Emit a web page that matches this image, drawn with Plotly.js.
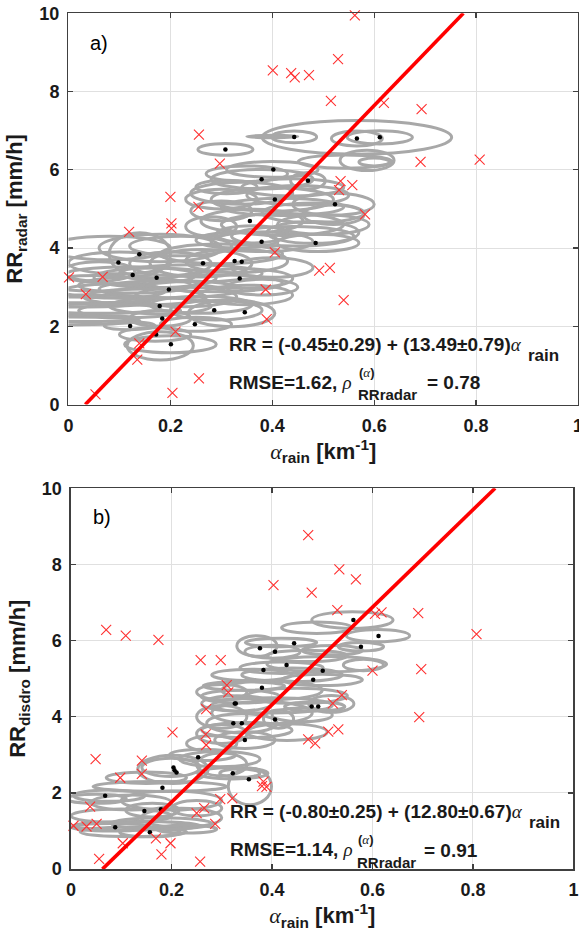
<!DOCTYPE html>
<html>
<head>
<meta charset="utf-8">
<script src="https://cdn.plot.ly/plotly-3.0.1.min.js"></script>
<style>html,body{margin:0;padding:0;background:#fff;}#chart{width:579px;height:937px;}</style>
</head>
<body>
<div id="chart"></div>
<script>
// ---------- Panel a) radar ----------
const topCrossX = [0.562,0.529,0.401,0.437,0.444,0.472,0.515,0.619,0.693,0.256,0.297,0.691,0.807,0.534,0.557,0.531,0.200,0.255,0.582,0.202,0.202,0.119,0.405,0.492,0.513,0.001,0.067,0.034,0.387,0.540,0.389,0.210,0.139,0.135,0.256,0.053,0.204];
const topCrossY = [9.95,8.83,8.54,8.47,8.36,8.42,7.76,7.71,7.55,6.90,6.16,6.20,6.26,5.71,5.61,5.48,5.31,5.05,4.86,4.63,4.50,4.41,3.89,3.42,3.49,3.25,3.26,2.82,2.94,2.67,2.18,1.86,1.56,1.15,0.67,0.26,0.30];

const topEllX  = [0.00,0.03,0.00,0.02,0.10,0.14,0.12,0.17,0.20,0.13,0.09,0.12,0.18,0.18,0.25,0.29,0.32,0.17,0.18,0.20,0.26,0.33,0.34,0.20,0.29,0.23,0.06,0.18,
                  0.08,0.22,0.30,0.40,0.38,0.05,0.15,0.26,0.12,0.35,0.24,0.06,
                  0.40,0.38,0.31,0.34,0.40,0.45,0.47,0.52,0.48,0.36,0.42,0.50,0.38,0.49,0.44,0.30,0.33,
                  0.35,0.44,0.30,0.48,0.36,0.42,0.52,0.28,
                  0.566,0.443,0.40,0.566,0.611,0.308,0.543,0.586,0.60];
const topEllY  = [2.62,2.70,2.14,2.20,3.62,3.84,3.30,3.24,2.95,3.05,2.90,2.01,2.52,2.20,2.05,2.41,2.33,1.79,1.50,1.54,3.61,3.67,3.22,3.60,3.10,2.75,3.40,4.00,
                  4.00,4.05,3.85,3.50,3.00,3.10,2.75,2.55,2.40,2.80,3.35,2.45,
                  6.01,5.76,5.56,5.40,5.24,5.35,5.72,5.12,4.90,4.69,4.60,4.60,4.16,4.13,4.30,4.95,4.20,
                  5.90,5.55,5.25,4.40,4.35,5.05,4.85,4.55,
                  6.83,6.84,6.85,6.80,6.83,6.52,6.21,6.24,6.20];
const topEllRx = [0.16,0.14,0.14,0.12,0.10,0.06,0.13,0.12,0.14,0.11,0.10,0.05,0.10,0.06,0.07,0.09,0.085,0.07,0.065,0.09,0.10,0.10,0.10,0.08,0.13,0.10,0.07,0.12,
                  0.12,0.10,0.12,0.08,0.07,0.10,0.12,0.10,0.10,0.09,0.14,0.12,
                  0.09,0.10,0.06,0.10,0.12,0.10,0.034,0.08,0.10,0.10,0.12,0.09,0.10,0.08,0.12,0.06,0.08,
                  0.08,0.10,0.07,0.09,0.07,0.12,0.06,0.05,
                  0.186,0.044,0.05,0.05,0.064,0.054,0.092,0.053,0.03];
const topEllRy = [0.13,0.10,0.10,0.08,0.28,0.55,0.22,0.25,0.22,0.20,0.18,0.10,0.20,0.20,0.18,0.25,0.34,0.17,0.36,0.22,0.35,0.30,0.25,0.30,0.22,0.25,0.25,0.35,
                  0.30,0.25,0.25,0.25,0.20,0.20,0.20,0.22,0.18,0.25,0.22,0.12,
                  0.20,0.25,0.17,0.28,0.30,0.25,0.21,0.28,0.25,0.30,0.28,0.25,0.25,0.22,0.25,0.25,0.20,
                  0.20,0.22,0.25,0.28,0.22,0.22,0.25,0.25,
                  0.43,0.15,0.03,0.19,0.17,0.15,0.17,0.26,0.10];

const topDotX = [0.443,0.566,0.611,0.308,0.402,0.379,0.405,0.523,0.470,0.356,0.379,0.485,0.139,0.098,0.264,0.326,0.340,0.197,0.286,0.346,0.184,0.248,0.172,0.201,0.121,0.179,0.126,0.173,0.336];
const topDotY = [6.84,6.80,6.83,6.52,6.01,5.76,5.24,5.12,5.72,4.69,4.16,4.13,3.84,3.63,3.61,3.67,3.65,2.94,2.41,2.36,2.20,2.05,1.79,1.54,2.01,2.52,3.31,3.24,3.22];

const topFitX = [0.033, 0.775];
const topFitY = [0, 10];

// ---------- Panel b) disdrometer ----------
const botCrossX = [0.070,0.109,0.174,0.258,0.298,0.403,0.310,0.313,0.472,0.534,0.567,0.479,0.530,0.605,0.618,0.691,0.807,0.600,0.697,0.539,0.521,0.693,0.512,0.532,0.472,0.486,0.269,0.202,0.268,0.269,0.049,0.141,0.141,0.098,0.383,0.389,0.380,0.297,0.321,0.038,0.265,0.250,0.287,0.005,0.031,0.051,0.103,0.169,0.198,0.180,0.056,0.257];
const botCrossY = [6.28,6.13,6.02,5.49,5.49,7.46,4.83,4.64,8.77,7.87,7.61,7.26,6.80,6.70,6.74,6.72,6.17,5.21,5.25,4.57,4.35,3.99,3.61,3.67,3.41,3.30,4.20,3.59,3.54,3.26,2.89,2.85,2.50,2.40,2.30,2.16,2.18,1.84,1.86,1.64,1.60,1.47,1.19,1.14,1.12,1.19,0.68,0.81,0.68,0.39,0.27,0.20];

const botEllX  = [0.560,0.489,0.611,0.370,0.418,0.401,0.577,0.419,0.509,0.582,0.44,0.50,0.344,0.337,0.40,0.45,0.518,0.485,0.413,0.33,0.34,0.38,0.30,0.346,0.30,0.43,
                  0.36,0.47,0.52,0.30,0.40,0.46,0.35,0.28,
                  0.203,0.199,0.262,0.296,0.322,0.356,0.336,0.177,0.076,0.162,0.131,0.124,0.20,0.12,0.22,0.08,0.25,0.157,
                  0.30,0.10,0.05,0.18,0.23,0.15];
const botEllY  = [6.54,6.34,6.13,5.86,5.95,5.71,5.84,5.29,5.38,5.36,5.10,4.97,4.81,4.53,4.70,4.55,4.34,4.27,3.94,4.35,3.83,4.10,4.00,3.39,3.55,3.60,
                  5.10,5.60,5.75,4.65,4.30,4.05,3.65,3.30,
                  2.62,2.67,3.00,2.89,2.52,2.17,2.52,2.17,1.93,1.55,1.14,0.98,1.80,1.75,1.35,1.10,1.60,0.97,
                  2.75,1.40,1.85,1.20,1.05,2.40];
const botEllRx = [0.081,0.070,0.063,0.040,0.071,0.055,0.045,0.083,0.119,0.040,0.10,0.08,0.081,0.078,0.10,0.10,0.045,0.06,0.03,0.07,0.07,0.10,0.05,0.06,0.05,0.08,
                  0.08,0.08,0.06,0.05,0.12,0.06,0.09,0.05,
                  0.07,0.058,0.066,0.08,0.07,0.043,0.04,0.133,0.071,0.053,0.126,0.106,0.10,0.08,0.08,0.08,0.05,0.06,
                  0.05,0.10,0.06,0.10,0.06,0.08];
const botEllRy = [0.22,0.15,0.16,0.27,0.11,0.17,0.11,0.15,0.20,0.15,0.18,0.15,0.11,0.17,0.25,0.20,0.22,0.12,0.24,0.20,0.25,0.30,0.30,0.22,0.25,0.22,
                  0.15,0.15,0.12,0.20,0.20,0.18,0.20,0.20,
                  0.37,0.24,0.15,0.20,0.15,0.48,0.11,0.13,0.15,0.18,0.11,0.13,0.25,0.20,0.25,0.10,0.20,0.12,
                  0.30,0.18,0.12,0.15,0.10,0.15];

const botDotX = [0.562,0.612,0.577,0.444,0.406,0.376,0.429,0.501,0.383,0.479,0.492,0.406,0.380,0.328,0.340,0.482,0.253,0.204,0.206,0.210,0.182,0.068,0.322,0.354,0.146,0.179,0.157,0.088,0.346,0.323,0.326];
const botDotY = [6.54,6.12,5.84,5.93,5.71,5.80,5.36,5.21,5.23,4.27,4.27,3.93,4.76,4.35,3.83,4.97,2.94,2.67,2.60,2.54,2.14,1.93,2.52,2.36,1.53,1.57,0.97,1.10,3.39,3.83,4.35];

const botFitX = [0.0625, 0.844];
const botFitY = [0, 10];

const xTickVals = [0, 0.2, 0.4, 0.6, 0.8, 1];
const xTickText = ['0', '0.2', '0.4', '0.6', '0.8', '1'];
const yTickVals = [0, 2, 4, 6, 8, 10];

// ---------- styling ----------
const FONT = 'Liberation Sans, Arial, Helvetica, sans-serif';
const SERIF = 'Liberation Serif, Times New Roman, serif';
const GRAY = '#a8a8a8';
const RED = '#ff0000';
const AX = '#404040';
const TXT = '#1a1a1a';
const ALPHA = '<span style="font-family:' + SERIF + ';font-style:italic;font-weight:normal">α</span>';

function ellipseShapes(cx, cy, rx, ry, xr, yr) {
  return cx.map((c, i) => ({
    type: 'circle', xref: xr, yref: yr, layer: 'between',
    x0: c - rx[i], x1: c + rx[i], y0: cy[i] - ry[i], y1: cy[i] + ry[i],
    line: {color: GRAY, width: 3}, fillcolor: 'rgba(0,0,0,0)'
  }));
}

function panelTraces(dx, dy, cx, cy, fx, fy, xa, ya) {
  return [
    {x: dx, y: dy, xaxis: xa, yaxis: ya, type: 'scatter', mode: 'markers',
     marker: {color: '#000', size: 4.5}, hoverinfo: 'skip'},
    {x: cx, y: cy, xaxis: xa, yaxis: ya, type: 'scatter', mode: 'markers', cliponaxis: false,
     marker: {symbol: 'x-thin', size: 10, color: '#ff3030', line: {color: '#ff3030', width: 1.1}}},
    {x: fx, y: fy, xaxis: xa, yaxis: ya, type: 'scatter', mode: 'lines',
     line: {color: RED, width: 3.6}}
  ];
}

const data = [].concat(
  panelTraces(topDotX, topDotY, topCrossX, topCrossY, topFitX, topFitY, 'x', 'y'),
  panelTraces(botDotX, botDotY, botCrossX, botCrossY, botFitX, botFitY, 'x2', 'y2')
);

const tickFont = {family: FONT, size: 18, color: TXT, weight: 'bold'};
const titleFont = {family: FONT, size: 22, color: TXT, weight: 'bold'};

function xAxis(domain, anchor) {
  return {
    domain: domain, anchor: anchor, range: [0, 1], tickvals: xTickVals, ticktext: xTickText,
    showgrid: true, gridcolor: '#e0e0e0', gridwidth: 1, zeroline: false,
    showline: true, linecolor: AX, linewidth: 1.5, mirror: 'ticks',
    ticks: 'inside', ticklen: 5, tickwidth: 1.3, tickcolor: AX,
    tickfont: tickFont, ticklabelstandoff: 4, ticklabeloverflow: 'allow',
    title: {text: ALPHA + '<sub>rain</sub> [km<sup>-1</sup>]', font: titleFont, standoff: 4}
  };
}
function yAxis(domain, anchor, sub) {
  return {
    domain: domain, anchor: anchor, range: [0, 10], tickvals: yTickVals,
    showgrid: true, gridcolor: '#e0e0e0', gridwidth: 1, zeroline: false,
    showline: true, linecolor: AX, linewidth: 1.5, mirror: 'ticks',
    ticks: 'inside', ticklen: 5, tickwidth: 1.3, tickcolor: AX,
    tickfont: tickFont, ticklabelstandoff: 4, ticklabeloverflow: 'allow',
    title: {text: 'RR<sub>' + sub + '</sub> [mm/h]', font: titleFont, standoff: 10}
  };
}

function px(x) { return x / 579; }
function py(y) { return 1 - y / 937; }
function ann(text, x, y, size, opts) {
  return Object.assign({
    xref: 'paper', yref: 'paper', x: px(x), y: py(y), text: text, showarrow: false,
    xanchor: 'left', yanchor: 'middle',
    font: {family: FONT, size: size, color: TXT, weight: 'bold'}
  }, opts || {});
}
const RHO = '<span style="font-family:' + SERIF + ';font-style:italic;font-weight:normal">ρ</span>';

const annotations = [
  ann('a)', 88, 43, 20, {font: {family: FONT, size: 20, color: '#000', weight: 'normal'}}),
  ann('b)', 91, 517, 20, {font: {family: FONT, size: 20, color: '#000', weight: 'normal'}}),
  // panel a equations
  ann('RR = (-0.45±0.29) + (13.49±0.79)' + ALPHA, 227, 345, 19),
  ann('rain', 526, 356, 17),
  ann('RMSE=1.62, ' + RHO, 227, 382, 19),
  ann('(' + ALPHA + ')', 357, 372, 13),
  ann('RRradar', 356, 395, 15),
  ann('= 0.78', 425, 382, 19),
  // panel b equations
  ann('RR = (-0.80±0.25) + (12.80±0.67)' + ALPHA, 228, 811, 19),
  ann('rain', 527, 822, 17),
  ann('RMSE=1.14, ' + RHO, 228, 849, 19),
  ann('(' + ALPHA + ')', 356, 839, 13),
  ann('RRradar', 355, 862, 15),
  ann('= 0.91', 422, 850, 19)
];

const layout = {
  width: 579, height: 937,
  margin: {l: 0, r: 0, t: 0, b: 0},
  paper_bgcolor: '#fff', plot_bgcolor: '#fff',
  showlegend: false,
  xaxis: xAxis([0.1183, 0.9983], 'y'),
  yaxis: yAxis([0.5683, 0.9858], 'x', 'radar'),
  xaxis2: xAxis([0.1226, 0.9905], 'y2'),
  yaxis2: yAxis([0.0724, 0.4789], 'x2', 'disdro'),
  shapes: ellipseShapes(topEllX, topEllY, topEllRx, topEllRy, 'x', 'y')
    .concat(ellipseShapes(botEllX, botEllY, botEllRx, botEllRy, 'x2', 'y2')),
  annotations: annotations
};

Plotly.newPlot('chart', data, layout, {displayModeBar: false, staticPlot: true});
</script>
</body>
</html>
